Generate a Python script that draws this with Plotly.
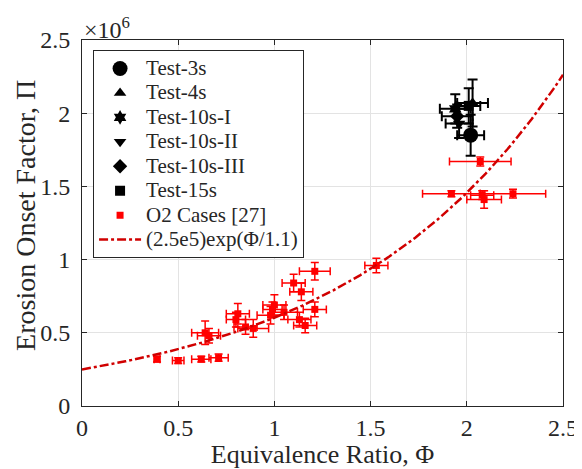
import numpy as np
import plotly.graph_objects as go

# Black test series: x, y (x1e6), x error, y error
test_names = ["Test-3s", "Test-4s", "Test-10s-I", "Test-10s-II", "Test-10s-III", "Test-15s"]
test_symbols = ["circle", "triangle-up", "hexagram", "triangle-down", "diamond", "square"]
test_sizes = [15, 11, 11, 11, 11, 10]
test_x = [2.02, 2.03, 1.94, 1.96, 1.95, 2.01]
test_y = [1.85, 2.07, 2.03, 1.93, 1.98, 2.05]
test_xerr = [0.07, 0.08, 0.08, 0.07, 0.08, 0.06]
test_yerr = [0.14, 0.16, 0.10, 0.10, 0.08, 0.12]

# O2 cases [27]
o2_x = [0.39, 0.50, 0.62, 0.71, 0.64, 0.66, 0.81, 0.80, 0.85, 0.89, 0.98, 1.00, 0.99,
        1.05, 1.10, 1.14, 1.21, 1.21, 1.13, 1.16, 1.53, 1.92, 2.08, 2.24, 2.09, 2.07]
o2_y = [0.32, 0.31, 0.32, 0.33, 0.50, 0.48, 0.63, 0.59, 0.54, 0.53, 0.62, 0.69, 0.66,
        0.64, 0.84, 0.78, 0.92, 0.66, 0.59, 0.55, 0.96, 1.45, 1.44, 1.45, 1.41, 1.67]
o2_xerr = [0.015, 0.03, 0.05, 0.05, 0.07, 0.06, 0.06, 0.05, 0.06, 0.08, 0.07, 0.06, 0.05,
           0.07, 0.06, 0.06, 0.08, 0.06, 0.06, 0.06, 0.06, 0.15, 0.06, 0.17, 0.09, 0.16]
o2_yerr = [0.02, 0.02, 0.02, 0.025, 0.08, 0.05, 0.07, 0.05, 0.05, 0.06, 0.06, 0.07, 0.05,
           0.05, 0.06, 0.06, 0.06, 0.05, 0.05, 0.05, 0.05, 0.02, 0.03, 0.03, 0.06, 0.03]

# Fit curve, in units of 1e6 (drawn as in the reference figure)
fit_label = "(2.5e5)exp(Φ/1.1)"
fit_a = 0.25
fit_b = 1.135
fit_x = np.linspace(0, 2.5, 200)
fit_y = fit_a * np.exp(fit_x / fit_b)

x_ticks = [0, 0.5, 1, 1.5, 2, 2.5]
x_ticklabels = ["0", "0.5", "1", "1.5", "2", "2.5"]
y_ticks = [0, 0.5, 1, 1.5, 2, 2.5]
y_ticklabels = ["0", "0.5", "1", "1.5", "2", "2.5"]

FONT = "Liberation Serif"
INK = "#262626"


def leg(txt):
    return '<span style="font-size:21px">' + txt + "</span>"


fig = go.Figure()

for name, sym, sz, x, y, xe, ye in zip(test_names, test_symbols, test_sizes,
                                        test_x, test_y, test_xerr, test_yerr):
    fig.add_trace(go.Scatter(
        x=[x], y=[y], mode="markers", name=leg(name),
        marker=dict(symbol=sym, size=sz, color="black"),
        error_x=dict(type="data", array=[xe], color="black", thickness=2, width=5),
        error_y=dict(type="data", array=[ye], color="black", thickness=2, width=5),
    ))

fig.add_trace(go.Scatter(
    x=o2_x, y=o2_y, mode="markers", name=leg("O2 Cases [27]"),
    marker=dict(symbol="square", size=7, color="#ff0000"),
    error_x=dict(type="data", array=o2_xerr, color="#ff0000", thickness=1.5, width=4),
    error_y=dict(type="data", array=o2_yerr, color="#ff0000", thickness=1.5, width=4),
))

fig.add_trace(go.Scatter(
    x=fit_x, y=fit_y, mode="lines", name=leg(fit_label),
    line=dict(color="#d00000", width=2.5, dash="dashdot"),
))

axis_common = dict(
    showgrid=True, gridcolor="#e3e3e3", gridwidth=1,
    showline=True, linecolor=INK, linewidth=1, mirror="ticks",
    ticks="inside", ticklen=5, tickcolor=INK,
    zeroline=False, automargin=False, ticklabeloverflow="allow",
    tickfont=dict(family=FONT, size=24, color=INK),
)

# page body has an 8px margin, so the figure is sized/offset to fill the 582x469 window
fig.update_layout(
    template="none",
    width=574, height=461,
    margin=dict(l=74, r=19, t=32, b=63),
    paper_bgcolor="white", plot_bgcolor="white",
    font=dict(family=FONT, color=INK),
    xaxis=dict(range=[0, 2.5], tickvals=x_ticks, ticktext=x_ticklabels,
               title=dict(text="Equivalence Ratio, Φ", font=dict(family=FONT, size=26, color=INK),
                          standoff=3),
               ticklabelstandoff=0,
               **axis_common),
    yaxis=dict(range=[0, 2.5], tickvals=y_ticks, ticktext=y_ticklabels,
               ticklabelstandoff=6,
               **axis_common),
    legend=dict(x=0.023, y=0.972, xanchor="left", yanchor="top",
                bgcolor="white", bordercolor=INK, borderwidth=1,
                font=dict(family=FONT, size=16.5, color=INK),
                itemwidth=42, tracegroupgap=0),
    showlegend=True,
    annotations=[
        dict(text="×10<sup>6</sup>", xref="paper", yref="paper", x=0.0, y=1.0,
             xanchor="left", yanchor="bottom", showarrow=False, yshift=-5,
             font=dict(family=FONT, size=24, color=INK)),
        dict(text="Erosion Onset Factor, Π", xref="paper", yref="paper", x=-0.118, y=0.52,
             xanchor="center", yanchor="middle", textangle=-90, showarrow=False,
             font=dict(family=FONT, size=28, color=INK)),
    ],
)

fig.write_html("out.html")
